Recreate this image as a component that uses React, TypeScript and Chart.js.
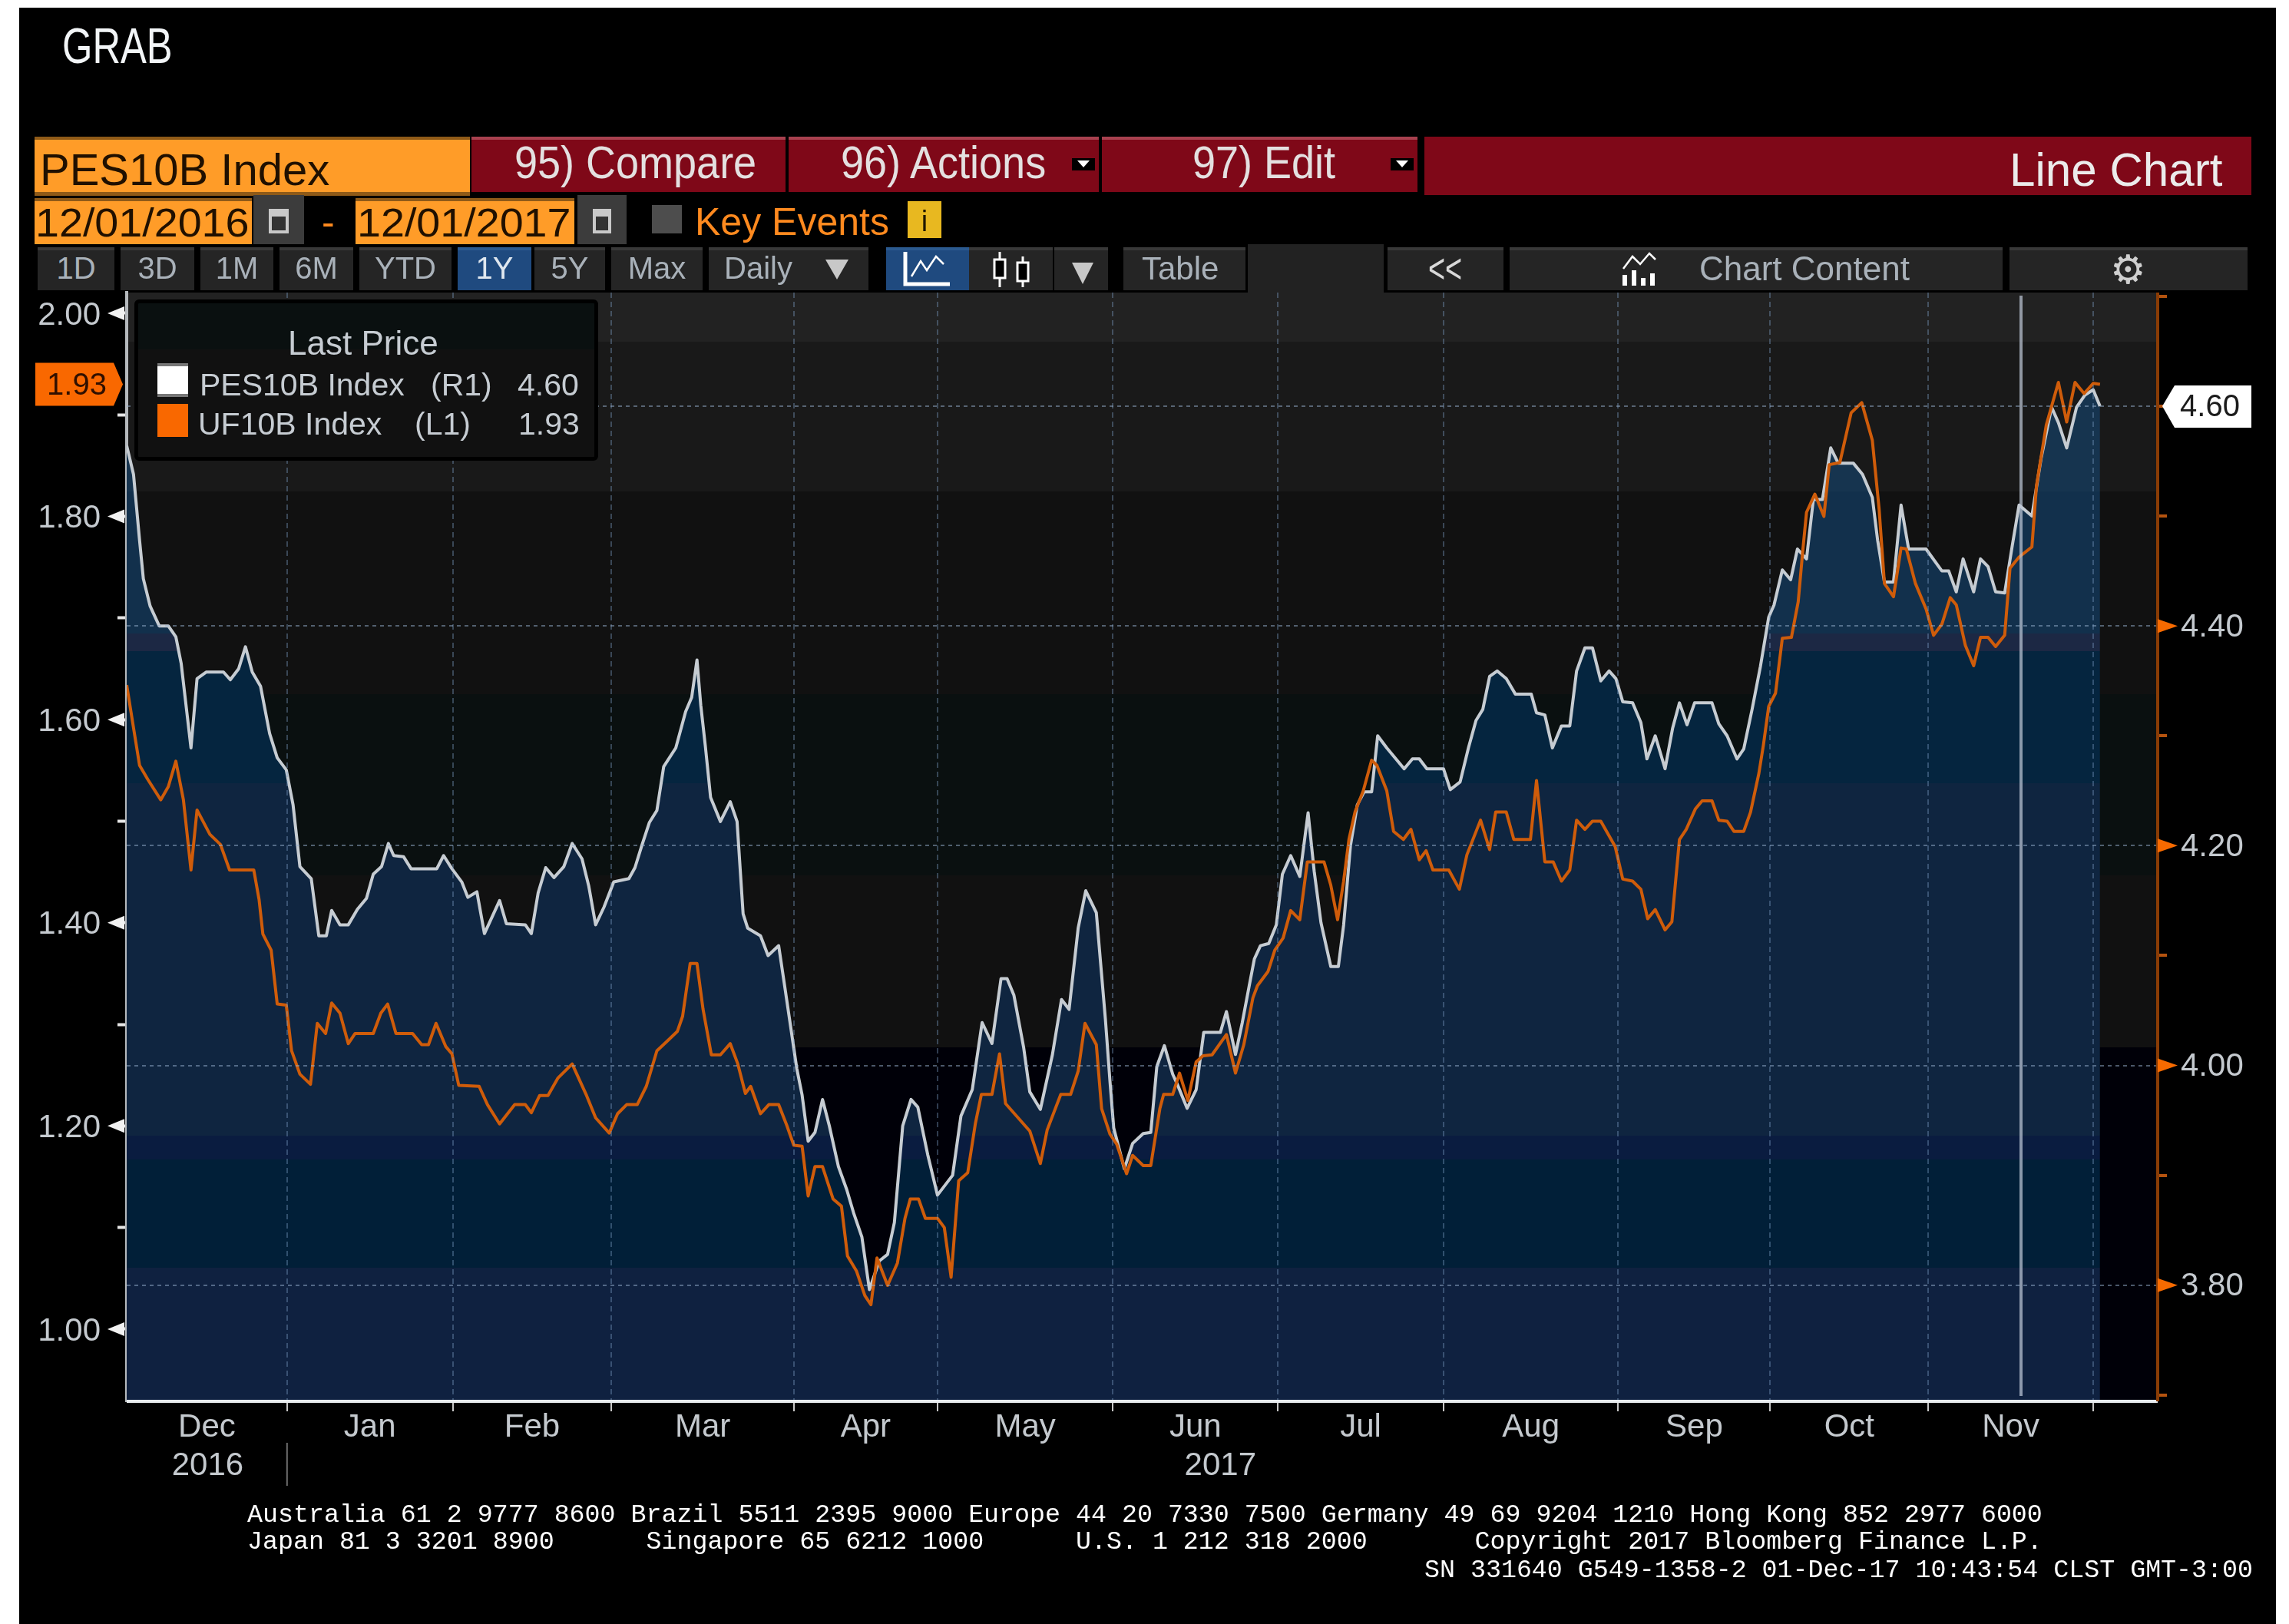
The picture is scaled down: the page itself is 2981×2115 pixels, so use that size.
import React, { useEffect, useRef } from "react";
import { Chart, registerables } from "chart.js";

Chart.register(...registerables);

// ---------- data ----------
const pesSessions = [0,0.9,1.7,2.2,3.1,4.3,5.5,6.5,7.2,8.5,9.3,10.5,12.8,13.7,14.8,15.7,16.6,17.7,18.9,19.9,21.1,22,22.9,24.4,25.4,26.4,27.1,28.2,29.3,30.5,31.7,32.6,33.7,34.6,35.3,36.6,37.6,41,41.9,43,44.3,45.1,46.3,47.3,48.3,49.3,50.2,52.7,53.5,54.4,55.4,56.5,57.8,58.9,60.2,61.1,62,63.1,64.4,66.4,67.2,68.1,69.1,70.1,71,72.6,73.9,74.7,75.4,75.9,76.5,77.2,78.5,79.8,80.7,81.5,82.1,83.8,84.8,86.2,87,88.6,89.3,90.1,91,92,92.9,94.1,95.2,96.1,97.2,98.2,99.5,100.6,101.5,102.6,103.7,104.6,105.9,107.2,109.2,110.3,111.8,113.1,114.4,115.6,116.4,117.3,118.6,119.4,120.8,122.4,123.6,124.6,125.8,126.8,128.2,129.4,130,130.5,131.9,133,134.4,135.4,136.2,137.2,138.3,138.9,140.2,141.4,142.4,144.6,145.4,146.6,147.5,148.4,149.1,149.9,151,152,152.8,153.9,155.1,156.2,157,157.9,159.2,160.2,160.9,161.8,162.7,163.6,164.6,165.4,166.6,168.9,170,170.9,171.9,174.1,175,176.3,177.4,178.4,179.3,180.2,181.2,182.4,183.6,185.7,186.4,187.5,188.5,189.7,190.8,191.7,192.8,193.8,194.9,196,196.9,197.8,199.1,200.2,201,202.1,203.4,204.4,205.3,206.3,207.3,209.6,210.5,211.6,212.9,213.8,214.9,216,217.1,217.8,218.9,220,220.9,222.1,223,224.2,225.3,226.3,228.3,229.5,230.8,231.5,232.4,233.6,234.6,235.6,237.9,240,240.9,241.9,242.8,244.2,245.1,246.1,247.1,248.3,249.3,250.2,251.9,253.1,254.5,255.4,256.5,257.8,258.9,260,260.9];
const pesValues = [4.564,4.538,4.478,4.443,4.418,4.4,4.4,4.39,4.366,4.289,4.352,4.358,4.358,4.351,4.361,4.381,4.358,4.345,4.302,4.28,4.269,4.237,4.181,4.17,4.118,4.118,4.141,4.128,4.128,4.142,4.152,4.174,4.181,4.202,4.191,4.19,4.179,4.179,4.191,4.179,4.167,4.153,4.158,4.12,4.135,4.15,4.129,4.128,4.12,4.157,4.18,4.171,4.181,4.202,4.188,4.163,4.128,4.144,4.167,4.17,4.18,4.2,4.221,4.232,4.272,4.289,4.322,4.335,4.369,4.328,4.291,4.244,4.222,4.24,4.222,4.138,4.125,4.118,4.1,4.109,4.072,3.997,3.973,3.931,3.939,3.969,3.945,3.908,3.887,3.866,3.844,3.796,3.822,3.828,3.857,3.945,3.969,3.962,3.919,3.882,3.9,3.954,3.978,4.039,4.02,4.079,4.079,4.064,4.016,3.976,3.96,4.01,4.06,4.051,4.125,4.159,4.139,4.042,3.986,3.943,3.906,3.929,3.938,3.939,3.999,4.018,3.992,3.983,3.961,3.978,4.03,4.03,4.049,4.01,4.039,4.072,4.097,4.109,4.111,4.128,4.174,4.191,4.172,4.23,4.177,4.13,4.09,4.09,4.128,4.2,4.237,4.249,4.249,4.3,4.289,4.27,4.279,4.279,4.27,4.27,4.251,4.258,4.289,4.314,4.324,4.354,4.359,4.352,4.338,4.338,4.321,4.319,4.289,4.309,4.309,4.359,4.38,4.38,4.35,4.359,4.352,4.331,4.33,4.312,4.279,4.3,4.27,4.307,4.33,4.31,4.33,4.33,4.311,4.3,4.279,4.288,4.324,4.363,4.408,4.419,4.451,4.442,4.47,4.461,4.515,4.515,4.562,4.548,4.548,4.538,4.517,4.478,4.44,4.44,4.51,4.47,4.47,4.45,4.45,4.431,4.461,4.431,4.461,4.454,4.431,4.43,4.473,4.51,4.5,4.552,4.599,4.585,4.562,4.599,4.61,4.615,4.6];

const ufSessions = [0,0.9,1.7,2.8,4.5,5.5,6.5,7.5,8.5,9.3,11,12.4,13.6,16.8,17.5,18,19.1,19.9,21.1,21.8,22.9,24.3,25.2,26.3,27.1,28.2,29.3,30.2,32.6,33.6,34.5,35.6,37.8,39,39.9,40.9,42.2,43,43.9,46.6,47.7,49.3,51.3,52.7,53.5,54.6,55.7,57,58.9,60.8,62,63.8,64.9,66.1,67.5,68.7,70.1,71.4,72.8,73.5,74.5,75.4,76.2,77.3,78.5,79.8,80.8,81.8,82.5,83.8,84.9,86.2,87.3,88.2,89.3,90.1,91,92,93.4,94.5,95.3,96.5,97.6,98.4,99.2,100.6,101.9,102.9,103.6,104.7,105.6,107.2,108.1,109,110,111.2,112.2,113,114.4,115.4,116.2,119.4,120.8,121.7,123.5,124.8,125.8,126.7,128.2,128.9,130,130.9,132.2,133,134.4,135.4,136.6,137.1,138.3,139.2,140.3,141.4,142.3,143.5,145.4,146.6,147.7,148.9,149.5,150.9,151.8,152.9,153.9,155.1,156.1,158.3,159.2,160.1,160.9,161.6,162.4,163.5,164.6,165.3,166.6,167.5,168.8,169.8,170.9,171.8,172.7,174.8,176.2,177.2,179,180.2,181,182.4,183.4,185.6,186.4,187.5,188.6,189.7,190.8,191.7,192.8,193.8,194.9,196.8,197.8,199.1,200.2,201.1,202.1,203.4,204.3,205.3,206.2,207.4,208.3,209.6,210.5,211.6,212.5,213.8,214.7,215.8,216.4,217.1,218,218.9,220.1,221,221.6,222.1,223.2,224.4,225.1,226.5,228,229.4,230.8,231.7,232.4,233.6,234.6,235.3,236.5,237.9,238.9,240,241.1,241.9,243.1,244.2,245.1,246.1,247.1,248.3,249,250.2,251.9,252.5,253.8,255.4,256.5,257.6,258.8,260,260.9];
const ufValues = [1.634,1.592,1.555,1.541,1.521,1.534,1.559,1.521,1.452,1.511,1.487,1.477,1.452,1.452,1.423,1.389,1.373,1.32,1.319,1.274,1.251,1.241,1.301,1.291,1.321,1.311,1.281,1.291,1.291,1.311,1.32,1.291,1.291,1.28,1.28,1.301,1.278,1.271,1.24,1.239,1.221,1.202,1.221,1.221,1.213,1.23,1.23,1.247,1.261,1.23,1.208,1.193,1.212,1.221,1.221,1.239,1.274,1.283,1.293,1.308,1.36,1.36,1.315,1.27,1.27,1.281,1.261,1.232,1.239,1.212,1.221,1.221,1.2,1.181,1.18,1.131,1.16,1.16,1.128,1.121,1.072,1.057,1.033,1.024,1.07,1.043,1.065,1.109,1.128,1.128,1.109,1.109,1.1,1.051,1.146,1.154,1.202,1.231,1.231,1.271,1.222,1.195,1.163,1.196,1.231,1.231,1.254,1.301,1.28,1.217,1.192,1.182,1.153,1.171,1.161,1.161,1.217,1.231,1.231,1.252,1.225,1.263,1.269,1.27,1.29,1.252,1.28,1.326,1.338,1.352,1.373,1.385,1.412,1.403,1.46,1.46,1.437,1.403,1.441,1.482,1.509,1.53,1.56,1.555,1.53,1.49,1.482,1.492,1.462,1.471,1.452,1.452,1.433,1.467,1.501,1.472,1.509,1.509,1.482,1.482,1.54,1.46,1.46,1.441,1.452,1.501,1.492,1.5,1.5,1.475,1.443,1.441,1.433,1.404,1.413,1.393,1.401,1.482,1.492,1.512,1.52,1.52,1.501,1.5,1.49,1.49,1.509,1.547,1.575,1.613,1.626,1.68,1.681,1.716,1.766,1.804,1.822,1.8,1.851,1.853,1.902,1.912,1.875,1.807,1.734,1.721,1.769,1.768,1.734,1.709,1.683,1.694,1.72,1.713,1.673,1.653,1.681,1.681,1.672,1.683,1.749,1.76,1.77,1.83,1.89,1.932,1.893,1.932,1.921,1.931,1.93];

const monthStarts = [21.2,43.1,64.1,88.2,107.2,130.4,152.2,174.1,197.2,217.3,238.2,260];
const monthLabels = ["Dec","Jan","Feb","Mar","Apr","May","Jun","Jul","Aug","Sep","Oct","Nov"];
const yearCentres = [10.7,144.6];
const yearLabels = ["2016","2017"];
const yearBoundary = 21.2;
const markerSession = 250.46;
const leftTicks = [1.0,1.1,1.2,1.3,1.4,1.5,1.6,1.7,1.8,1.9,2.0];
const leftLabelled = [1.0,1.2,1.4,1.6,1.8,2.0];
const rightTicks = [3.7,3.8,3.9,4.0,4.1,4.2,4.3,4.4,4.5,4.6,4.7];
const rightLabelled = [3.8,4.0,4.2,4.4];
const rightGrid = [3.8,4.0,4.2,4.4,4.6];

// ---------- scale limits and chart geometry ----------
const xLimits = { min: 0, max: 268.53 };
const leftLimits = { min: 0.9289, max: 2.0204 };
const rightLimits = { min: 3.6943, max: 4.7034 };
const PLOT = { top: 381, left: 165, right: 2810, bottom: 1825 };
const FONT = '"Liberation Sans", Arial, sans-serif';

const bgBands: [number, number, string][] = [
  [381, 445, "#222222"], [445, 640, "#191919"], [640, 904, "#111111"],
  [904, 1140, "#0a1010"], [1140, 1364, "#111111"], [1364, 1825, "#000008"],
];
const fillBands: [number, number, string][] = [
  [381, 640, "#16344f"], [640, 825, "#12304c"], [825, 848, "#1c2844"],
  [848, 1020, "#05253f"], [1020, 1479, "#0f2540"], [1479, 1510, "#0a1c40"],
  [1510, 1651, "#011f38"], [1651, 1825, "#0f2140"],
];

const near = (a: number, list: number[]) => list.some((v) => Math.abs(v - a) < 1e-6);
const setTicks = (list: number[]) => (axis: any) => { axis.ticks = list.map((value) => ({ value })); };
const midpoints = [0, ...monthStarts].slice(0, -1).map((s, i) => (s + monthStarts[i]) / 2);

const blooms = {
  id: "bloomberg",
  beforeDraw(chart: any) {
    const c = chart.ctx;
    c.save();
    bgBands.forEach(([a, b, col]) => {
      c.fillStyle = col;
      c.fillRect(PLOT.left, a, PLOT.right - PLOT.left, b - a);
    });
    c.restore();
  },
  afterDatasetsDraw(chart: any) {
    const c = chart.ctx;
    const { x } = chart.scales;
    c.save();
    c.strokeStyle = "rgba(190,200,215,0.72)";
    c.lineWidth = 4;
    c.beginPath();
    const mx = x.getPixelForValue(markerSession);
    c.moveTo(mx, 385);
    c.lineTo(mx, 1818);
    c.stroke();
    c.restore();
  },
  afterDraw(chart: any) {
    const c = chart.ctx;
    const { x, yL, yR } = chart.scales;
    const area = chart.chartArea;
    c.save();
    // bottom and right axis lines
    c.lineWidth = 4;
    c.strokeStyle = "#e8ecef";
    c.beginPath(); c.moveTo(area.left, area.bottom); c.lineTo(area.right, area.bottom); c.stroke();
    c.strokeStyle = "#8a3c05";
    c.beginPath(); c.moveTo(area.right, area.top); c.lineTo(area.right, area.bottom); c.stroke();
    // major tick pointers
    c.fillStyle = "#f2f2f2";
    leftLabelled.forEach((v) => {
      const p = yL.getPixelForValue(v);
      c.beginPath(); c.moveTo(140, p); c.lineTo(162, p - 9); c.lineTo(162, p + 9); c.closePath(); c.fill();
    });
    c.fillStyle = "#f76a00";
    rightLabelled.forEach((v) => {
      const p = yR.getPixelForValue(v);
      c.beginPath(); c.moveTo(2836, p); c.lineTo(2810, p - 9); c.lineTo(2810, p + 9); c.closePath(); c.fill();
    });
    // year separator
    c.strokeStyle = "#6d6d6d"; c.lineWidth = 2;
    const yb = x.getPixelForValue(yearBoundary);
    c.beginPath(); c.moveTo(yb, 1879); c.lineTo(yb, 1935); c.stroke();
    // last value pennants
    const lp = yL.getPixelForValue(ufValues[ufValues.length - 1]);
    c.fillStyle = "#f96800";
    c.beginPath(); c.moveTo(46, lp - 28); c.lineTo(148, lp - 28); c.lineTo(160, lp); c.lineTo(148, lp + 28); c.lineTo(46, lp + 28); c.closePath(); c.fill();
    c.fillStyle = "#301000"; c.font = `40px ${FONT}`; c.textAlign = "center"; c.textBaseline = "middle";
    c.fillText(ufValues[ufValues.length - 1].toFixed(2), 100, lp + 2);
    const rp = yR.getPixelForValue(pesValues[pesValues.length - 1]);
    c.fillStyle = "#ffffff";
    c.beginPath(); c.moveTo(2816, rp); c.lineTo(2832, rp - 27); c.lineTo(2932, rp - 27); c.lineTo(2932, rp + 28); c.lineTo(2832, rp + 28); c.closePath(); c.fill();
    c.fillStyle = "#1b1b1b";
    c.fillText(pesValues[pesValues.length - 1].toFixed(2), 2878, rp + 2);
    c.restore();
  },
};

const fillGradient = (ctx: any) => {
  const { chart } = ctx;
  const area = chart.chartArea;
  if (!area) return "#0f2540";
  const g = chart.ctx.createLinearGradient(0, area.top, 0, area.bottom);
  const h = area.bottom - area.top;
  fillBands.forEach(([a, b, col]) => {
    g.addColorStop(Math.min(1, Math.max(0, (a - area.top) / h)), col);
    g.addColorStop(Math.min(1, Math.max(0, (b - area.top) / h)), col);
  });
  return g;
};

// ---------- chrome (toolbars and captions) ----------
const rangeButtons: [string, number, number][] = [
  ["1D", 49, 149], ["3D", 157, 253], ["1M", 261, 356], ["6M", 364, 460], ["YTD", 468, 588],
  ["1Y", 596, 692], ["5Y", 696, 788], ["Max", 796, 915],
];
const footerLines: [string, number, number][] = [
  ["Australia 61 2 9777 8600 Brazil 5511 2395 9000 Europe 44 20 7330 7500 Germany 49 69 9204 1210 Hong Kong 852 2977 6000", 322, 1983],
  ["Japan 81 3 3201 8900      Singapore 65 6212 1000      U.S. 1 212 318 2000       Copyright 2017 Bloomberg Finance L.P.", 322, 2018],
  ["SN 331640 G549-1358-2 01-Dec-17 10:43:54 CLST GMT-3:00", 1855, 2055],
];

const Box = ({ a, t, b, h, bg, extra }: any) => (
  <div style={{ position: "absolute", left: a, top: t, width: b - a, height: h - t, background: bg, ...extra }} />
);
const T = ({ x, base, size, sx = 1, color = "#b4bcc4", center = false, mono = false, children }: any) => (
  <div
    style={{
      position: "absolute", left: x, top: base - (mono ? 0.833 : 0.8465) * size, fontSize: size, lineHeight: mono ? "1.133" : "1",
      fontFamily: mono ? '"Liberation Mono", monospace' : FONT, color, whiteSpace: "pre",
      transform: `${center ? "translateX(-50%) " : ""}scaleX(${sx})`, transformOrigin: center ? "center top" : "left top",
    }}
  >
    {children}
  </div>
);
const Btn = ({ a, b, bg = "#252525" }: any) => (
  <>
    <Box a={a} t={322} b={b} h={378} bg={bg} />
    <Box a={a} t={322} b={b} h={326} bg={bg === "#252525" ? "#383838" : "#2b5a90"} />
  </>
);
const CalIcon = ({ a, b }: any) => (
  <>
    <Box a={a} t={254} b={b} h={318} bg="#3c3c3c" />
    <Box a={a + 20} t={272} b={b - 20} h={304} bg="#c9c9c9" />
    <Box a={a + 24} t={282} b={b - 24} h={300} bg="#333" />
  </>
);
const DropMini = ({ a }: any) => (
  <>
    <Box a={a} t={206} b={a + 30} h={222} bg="#000" />
    <div style={{ position: "absolute", left: a + 7, top: 209, width: 0, height: 0, borderLeft: "8px solid transparent", borderRight: "8px solid transparent", borderTop: "9px solid #fff" }} />
  </>
);

export default function App() {
  const ref = useRef<HTMLCanvasElement | null>(null);
  useEffect(() => {
    if (!ref.current) return;
    const tickFont = { family: FONT, size: 42 };
    const chart = new Chart(ref.current, {
      type: "line",
      data: {
        datasets: [
          {
            label: "PES10B Index (R1)",
            data: pesSessions.map((x, i) => ({ x, y: pesValues[i] })),
            yAxisID: "yR", borderColor: "#c6ccd2", borderWidth: 4, borderJoinStyle: "round", pointRadius: 0, tension: 0,
            fill: "start", backgroundColor: fillGradient, order: 2,
          },
          {
            label: "UF10B Index (L1)",
            data: ufSessions.map((x, i) => ({ x, y: ufValues[i] })),
            yAxisID: "yL", borderColor: "#cf5c0a", borderWidth: 4, borderJoinStyle: "round", pointRadius: 0, tension: 0,
            fill: false, order: 1,
          },
        ],
      } as any,
      plugins: [blooms],
      options: {
        animation: false, responsive: false, devicePixelRatio: 1, normalized: true,
        layout: { autoPadding: false, padding: { top: PLOT.top, left: 0, right: 0, bottom: 0 } },
        plugins: { legend: { display: false }, tooltip: { enabled: false } },
        scales: {
          x: {
            type: "linear", position: "bottom", ...xLimits,
            afterFit: (s: any) => { s.height = 9; },
            afterBuildTicks: setTicks(monthStarts),
            ticks: { display: false, autoSkip: false },
            grid: { color: "rgba(125,160,200,0.38)", lineWidth: 2, z: 1, tickColor: "#c8c8c8", tickLength: 13, tickWidth: 2 },
            border: { display: false, dash: [7, 5] },
          },
          xMonths: {
            type: "linear", position: "bottom", ...xLimits,
            afterFit: (s: any) => { s.height = 50; },
            afterBuildTicks: setTicks(midpoints),
            ticks: { autoSkip: false, maxRotation: 0, padding: 0, color: "#c4c9ce", font: tickFont,
              callback: (v: any) => monthLabels[midpoints.findIndex((m) => Math.abs(m - v) < 1e-6)] ?? "" },
            grid: { display: false, drawTicks: false },
            border: { display: false },
          },
          xYears: {
            type: "linear", position: "bottom", ...xLimits,
            afterFit: (s: any) => { s.height = 231; },
            afterBuildTicks: setTicks(yearCentres),
            ticks: { autoSkip: false, maxRotation: 0, padding: 0, color: "#c4c9ce", font: tickFont,
              callback: (v: any) => yearLabels[yearCentres.indexOf(v)] ?? "" },
            grid: { display: false, drawTicks: false },
            border: { display: false },
          },
          yL: {
            type: "linear", position: "left", ...leftLimits,
            afterFit: (s: any) => { s.width = PLOT.left; },
            afterBuildTicks: setTicks(leftTicks),
            ticks: { autoSkip: false, padding: 22, labelOffset: 3, color: "#c4c9ce", font: tickFont,
              callback: (v: any) => (near(v, leftLabelled) ? Number(v).toFixed(2) : "") },
            grid: { drawOnChartArea: false, drawTicks: true, tickLength: 12, tickWidth: 4, tickColor: "#e6e6e6" },
            border: { color: "#b5b9bd", width: 4 },
          },
          yR: {
            type: "linear", position: "right", ...rightLimits,
            afterFit: (s: any) => { s.width = 2981 - PLOT.right; },
            afterBuildTicks: setTicks(rightTicks),
            ticks: { autoSkip: false, padding: 18, labelOffset: 2, color: "#c4c9ce", font: tickFont,
              callback: (v: any) => (near(v, rightLabelled) ? Number(v).toFixed(2) : "") },
            grid: {
              z: 1, lineWidth: (c: any) => (c.tick && near(c.tick.value, rightGrid) ? 2 : 0),
              color: "rgba(150,175,205,0.5)", tickLength: 12, tickWidth: 4, tickColor: "#b4530f",
            },
            border: { display: false, dash: [5, 5] },
          },
        },
      } as any,
    });
    return () => chart.destroy();
  }, []);

  return (
    <div style={{ position: "fixed", left: 0, top: 0, width: 2981, height: 2115, background: "#fff", overflow: "hidden" }}>
      <Box a={25} t={10} b={2964} h={2115} bg="#000" />
      <canvas ref={ref} width={2981} height={2115} style={{ position: "absolute", left: 0, top: 0, display: "block" }} />

      <T x={81} base={82} size={65} sx={0.78} color="#f2f5f7">GRAB</T>

      {/* first toolbar row */}
      <Box a={45} t={178} b={612} h={255} bg="#ff9c28" />
      <Box a={45} t={178} b={612} h={182} bg="#8f5a18" />
      <Box a={45} t={250} b={612} h={255} bg="#8f5a18" />
      <T x={52} base={241} size={58} color="#201000">PES10B Index</T>
      {[[614, 1023], [1027, 1431], [1435, 1846]].map(([a, b]) => (
        <React.Fragment key={a}>
          <Box a={a} t={178} b={b} h={250} bg="#7f0818" />
          <Box a={a} t={178} b={b} h={182} bg="#a8414f" />
        </React.Fragment>
      ))}
      <Box a={1855} t={178} b={2932} h={254} bg="#7f0818" />
      <T x={670} base={233} size={60} sx={0.9} color="#e4e0e0">95) Compare</T>
      <T x={1095} base={233} size={60} sx={0.9} color="#e4e0e0">96) Actions</T>
      <DropMini a={1396} />
      <T x={1553} base={233} size={60} sx={0.9} color="#e4e0e0">97) Edit</T>
      <DropMini a={1811} />
      <T x={2617} base={242} size={62} sx={0.97} color="#ecebeb">Line Chart</T>

      {/* date row */}
      <Box a={45} t={258} b={328} h={318} bg="#ff9c28" />
      <Box a={45} t={258} b={328} h={262} bg="#8f5a18" />
      <Box a={463} t={258} b={748} h={318} bg="#ff9c28" />
      <Box a={463} t={258} b={748} h={262} bg="#8f5a18" />
      <T x={46} base={308} size={52} sx={1.07} color="#201000">12/01/2016</T>
      <T x={465} base={308} size={52} sx={1.07} color="#201000">12/01/2017</T>
      <CalIcon a={330} b={396} />
      <CalIcon a={752} b={816} />
      <T x={419} base={306} size={50} color="#ff8a1f">-</T>
      <Box a={849} t={267} b={888} h={304} bg="#4d4d4d" />
      <T x={905} base={306} size={50} color="#ff8a1f">Key Events</T>
      <Box a={1182} t={262} b={1226} h={310} bg="#e8b820" />
      <T x={1204} base={301} size={38} center color="#201800">i</T>

      {/* range row */}
      {rangeButtons.map(([label, a, b]) => (
        <React.Fragment key={label}>
          <Btn a={a} b={b} bg={label === "1Y" ? "#1f4a7f" : "#252525"} />
          <T x={(a + b) / 2} base={363} size={40} center color={label === "1Y" ? "#dfe7ef" : "#a9b1b9"}>{label}</T>
        </React.Fragment>
      ))}
      <Btn a={923} b={1131} />
      <T x={943} base={363} size={40} color="#a9b1b9">Daily</T>
      <div style={{ position: "absolute", left: 1075, top: 338, width: 0, height: 0, borderLeft: "15px solid transparent", borderRight: "15px solid transparent", borderTop: "26px solid #c8c8c8" }} />
      <Btn a={1154} b={1262} bg="#1f4a7f" />
      <svg style={{ position: "absolute", left: 1175, top: 326 }} width="68" height="50" viewBox="0 0 68 50">
        <path d="M4 2V44H62" stroke="#fff" strokeWidth="5" fill="none" />
        <path d="M12 34L24 14L32 26L44 8L54 18" stroke="#fff" strokeWidth="2.5" fill="none" />
      </svg>
      <Btn a={1262} b={1371} />
      <svg style={{ position: "absolute", left: 1288, top: 326 }} width="60" height="50" viewBox="0 0 60 50">
        <path d="M14 2V48M44 8V48" stroke="#fff" strokeWidth="3" />
        <rect x="7" y="12" width="14" height="24" fill="#000" stroke="#fff" strokeWidth="3" />
        <rect x="37" y="16" width="14" height="24" fill="#000" stroke="#fff" strokeWidth="3" />
      </svg>
      <Btn a={1373} b={1443} />
      <div style={{ position: "absolute", left: 1396, top: 342, width: 0, height: 0, borderLeft: "14px solid transparent", borderRight: "14px solid transparent", borderTop: "28px solid #c8c8c8" }} />
      <Btn a={1463} b={1622} />
      <T x={1487} base={365} size={42} color="#a9b1b9">Table</T>
      <Box a={1625} t={318} b={1802} h={381} bg="#222" />
      <Btn a={1807} b={1958} />
      <T x={1882} base={368} size={54} sx={0.7} center color="#d8d8d8">{"<<"}</T>
      <Btn a={1966} b={2608} />
      <svg style={{ position: "absolute", left: 2110, top: 328 }} width="50" height="46" viewBox="0 0 50 46">
        <path d="M4 22L16 6L26 16L38 2L46 10" stroke="#fff" strokeWidth="2.5" fill="none" />
        <path d="M6 44V30M18 44V24M30 44V34M42 44V28" stroke="#fff" strokeWidth="6" />
      </svg>
      <T x={2213} base={365} size={44} color="#a9b1b9">Chart Content</T>
      <Btn a={2617} b={2927} />
      <T x={2771} base={369} size={52} center color="#cfcfcf">{"\u2699"}</T>

      {/* last price legend */}
      <div style={{ position: "absolute", left: 175, top: 390, width: 604, height: 210, boxSizing: "border-box", border: "5px solid #000", borderRadius: 6, background: "linear-gradient(#0a1010 0 60px, #111 60px)" }} />
      <T x={375} base={462} size={44} color="#c6ccd2">Last Price</T>
      <Box a={205} t={473} b={245} h={517} bg="#fff" />
      <Box a={205} t={473} b={245} h={477} bg="#777" />
      <Box a={205} t={513} b={245} h={517} bg="#777" />
      <T x={260} base={516} size={41} color="#c6ccd2">PES10B Index</T>
      <T x={561} base={516} size={41} color="#c6ccd2">(R1)</T>
      <T x={674} base={516} size={41} color="#c6ccd2">4.60</T>
      <Box a={205} t={526} b={245} h={569} bg="#f96800" />
      <T x={258} base={567} size={41} color="#c6ccd2">UF10B Index</T>
      <T x={540} base={567} size={41} color="#c6ccd2">(L1)</T>
      <T x={675} base={567} size={41} color="#c6ccd2">1.93</T>

      {footerLines.map(([text, x, base]) => (
        <T key={text} x={x} base={base} size={33.3} mono color="#ffffff">{text}</T>
      ))}
    </div>
  );
}
